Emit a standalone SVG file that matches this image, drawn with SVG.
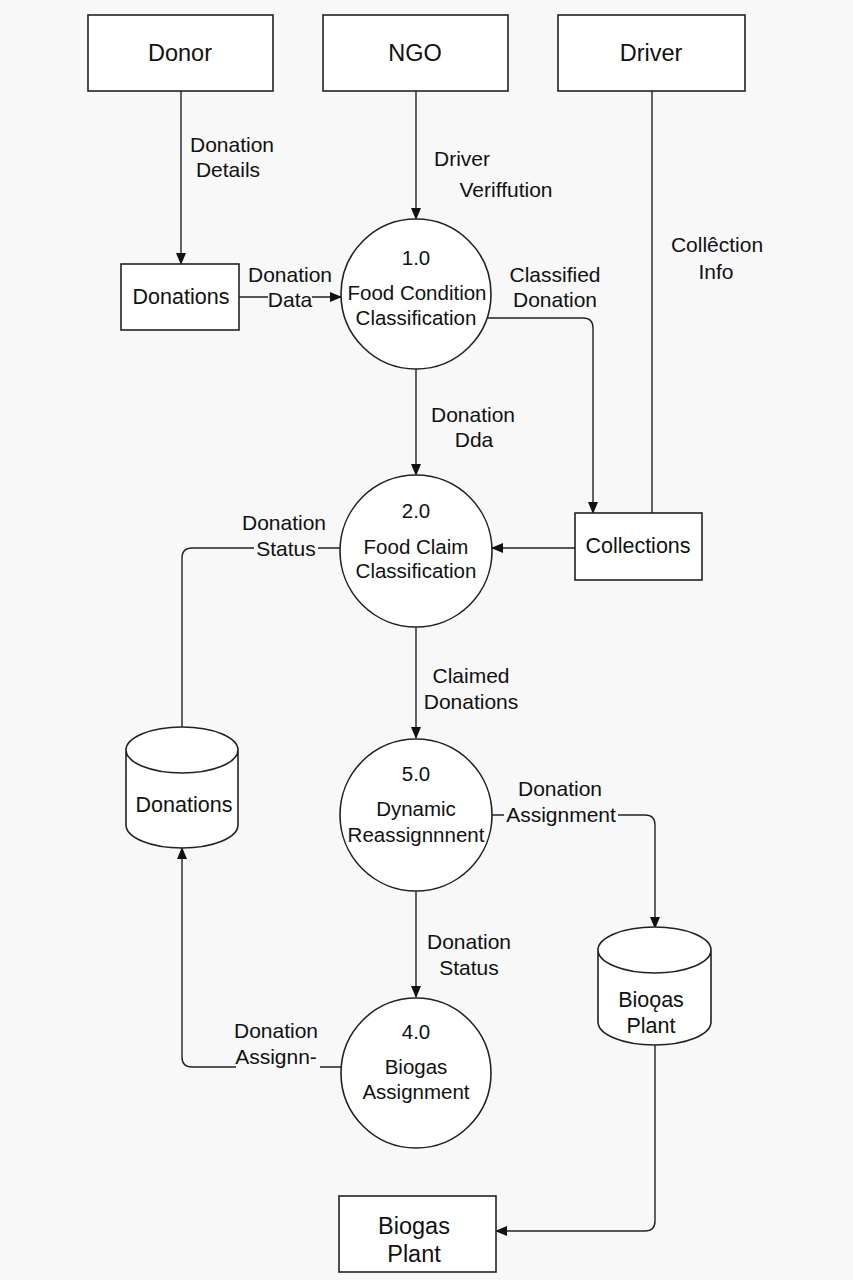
<svg xmlns="http://www.w3.org/2000/svg" width="853" height="1280" viewBox="0 0 853 1280">
<defs>
<marker id="ah" markerWidth="12" markerHeight="10" refX="11" refY="5" orient="auto" markerUnits="userSpaceOnUse">
<path d="M0,0 L12,5 L0,10 Z" fill="#111"/>
</marker>
<style>
.s{fill:#fff;stroke:#222;stroke-width:1.6}
.c{fill:none;stroke:#222;stroke-width:1.4}
text{font-family:"Liberation Sans",Arial,sans-serif;fill:#111;text-anchor:middle}
.b{font-size:23.5px}
.p{font-size:20.5px}
.d{font-size:21.5px}
.l{font-size:21px}
.bg{fill:#f8f8f8}
</style>
</defs>
<rect width="853" height="1280" fill="#f8f8f8"/>
<g id="connectors">
<path class="c" d="M181,91 V264" marker-end="url(#ah)"/>
<path class="c" d="M416,91 V219" marker-end="url(#ah)"/>
<path class="c" d="M652,91 V513"/>
<path class="c" d="M239,297 H341" marker-end="url(#ah)"/>
<path class="c" d="M488,318 H583 Q593,318 593,328 V513" marker-end="url(#ah)"/>
<path class="c" d="M416,369 V475" marker-end="url(#ah)"/>
<path class="c" d="M575,548 H492" marker-end="url(#ah)"/>
<path class="c" d="M340,548 H192 Q182,548 182,558 V727"/>
<path class="c" d="M416,627 V738" marker-end="url(#ah)"/>
<path class="c" d="M492,815 H645 Q655,815 655,825 V928" marker-end="url(#ah)"/>
<path class="c" d="M416,891 V997" marker-end="url(#ah)"/>
<path class="c" d="M341,1067 H192 Q182,1067 182,1057 V848" marker-end="url(#ah)"/>
<path class="c" d="M655,1045 V1221 Q655,1231 645,1231 H496" marker-end="url(#ah)"/>
</g>
<g id="labels">
<text class="l" x="232" y="152">Donation</text>
<text class="l" x="228" y="177">Details</text>
<text class="l" x="462" y="166">Driver</text>
<text class="l" x="506" y="197">Veriffution</text>
<text class="l" x="717" y="252">Collêction</text>
<text class="l" x="716" y="279">Info</text>
<rect class="bg" x="268" y="287" width="44" height="20"/>
<text class="l" x="290" y="282">Donation</text>
<text class="l" x="290" y="307">Data</text>
<text class="l" x="555" y="282">Classified</text>
<text class="l" x="555" y="307">Donation</text>
<text class="l" x="473" y="422">Donation</text>
<text class="l" x="474" y="447">Dda</text>
<rect class="bg" x="254" y="538" width="64" height="22"/>
<text class="l" x="284" y="530">Donation</text>
<text class="l" x="286" y="556">Status</text>
<text class="l" x="471" y="683">Claimed</text>
<text class="l" x="471" y="709">Donations</text>
<rect class="bg" x="504" y="805" width="114" height="22"/>
<text class="l" x="560" y="796">Donation</text>
<text class="l" x="561" y="822">Assignment</text>
<text class="l" x="469" y="949">Donation</text>
<text class="l" x="469" y="975">Status</text>
<rect class="bg" x="236" y="1056" width="84" height="22"/>
<text class="l" x="276" y="1038">Donation</text>
<text class="l" x="276" y="1064">Assignn-</text>
</g>
<g id="donor"><rect class="s" x="88" y="15" width="185" height="76"/><text class="b" x="180" y="61">Donor</text></g>
<g id="ngo"><rect class="s" x="323" y="15" width="185" height="76"/><text class="b" x="415" y="61">NGO</text></g>
<g id="driver"><rect class="s" x="558" y="15" width="187" height="76"/><text class="b" x="651" y="61">Driver</text></g>
<g id="donations-store"><rect class="s" x="121" y="264" width="118" height="66"/><text class="d" x="181" y="304">Donations</text></g>
<g id="p1"><circle class="s" cx="416" cy="294" r="75"/><text class="p" x="416" y="265">1.0</text><text class="p" x="417" y="300">Food Condition</text><text class="p" x="416" y="325">Classification</text></g>
<g id="collections"><rect class="s" x="575" y="513" width="127" height="67"/><text class="d" x="638" y="553">Collections</text></g>
<g id="p2"><circle class="s" cx="416" cy="551" r="76"/><text class="p" x="416" y="518">2.0</text><text class="p" x="416" y="554">Food Claim</text><text class="p" x="416" y="578">Classification</text></g>
<g id="donations-db"><path class="s" d="M126,750 V825 A56,23 0 0 0 238,825 V750 A56,23 0 0 0 126,750 A56,23 0 0 0 238,750"/><text class="d" x="184" y="812">Donations</text></g>
<g id="p5"><circle class="s" cx="416" cy="815" r="76"/><text class="p" x="416" y="781">5.0</text><text class="p" x="416" y="816">Dynamic</text><text class="p" x="416" y="842">Reassignnnent</text></g>
<g id="biogas-db"><path class="s" d="M598,950 V1022 A56.5,23 0 0 0 711,1022 V950 A56.5,23 0 0 0 598,950 A56.5,23 0 0 0 711,950"/><text class="d" x="651" y="1007">Bioǫas</text><text class="d" x="651" y="1033">Plant</text></g>
<g id="p4"><circle class="s" cx="416" cy="1073" r="75"/><text class="p" x="416" y="1039">4.0</text><text class="p" x="416" y="1074">Biogas</text><text class="p" x="416" y="1099">Assignment</text></g>
<g id="biogas-plant"><rect class="s" x="339" y="1196" width="157" height="76"/><text class="b" x="414" y="1234">Biogas</text><text class="b" x="414" y="1262">Plant</text></g>
</svg>
